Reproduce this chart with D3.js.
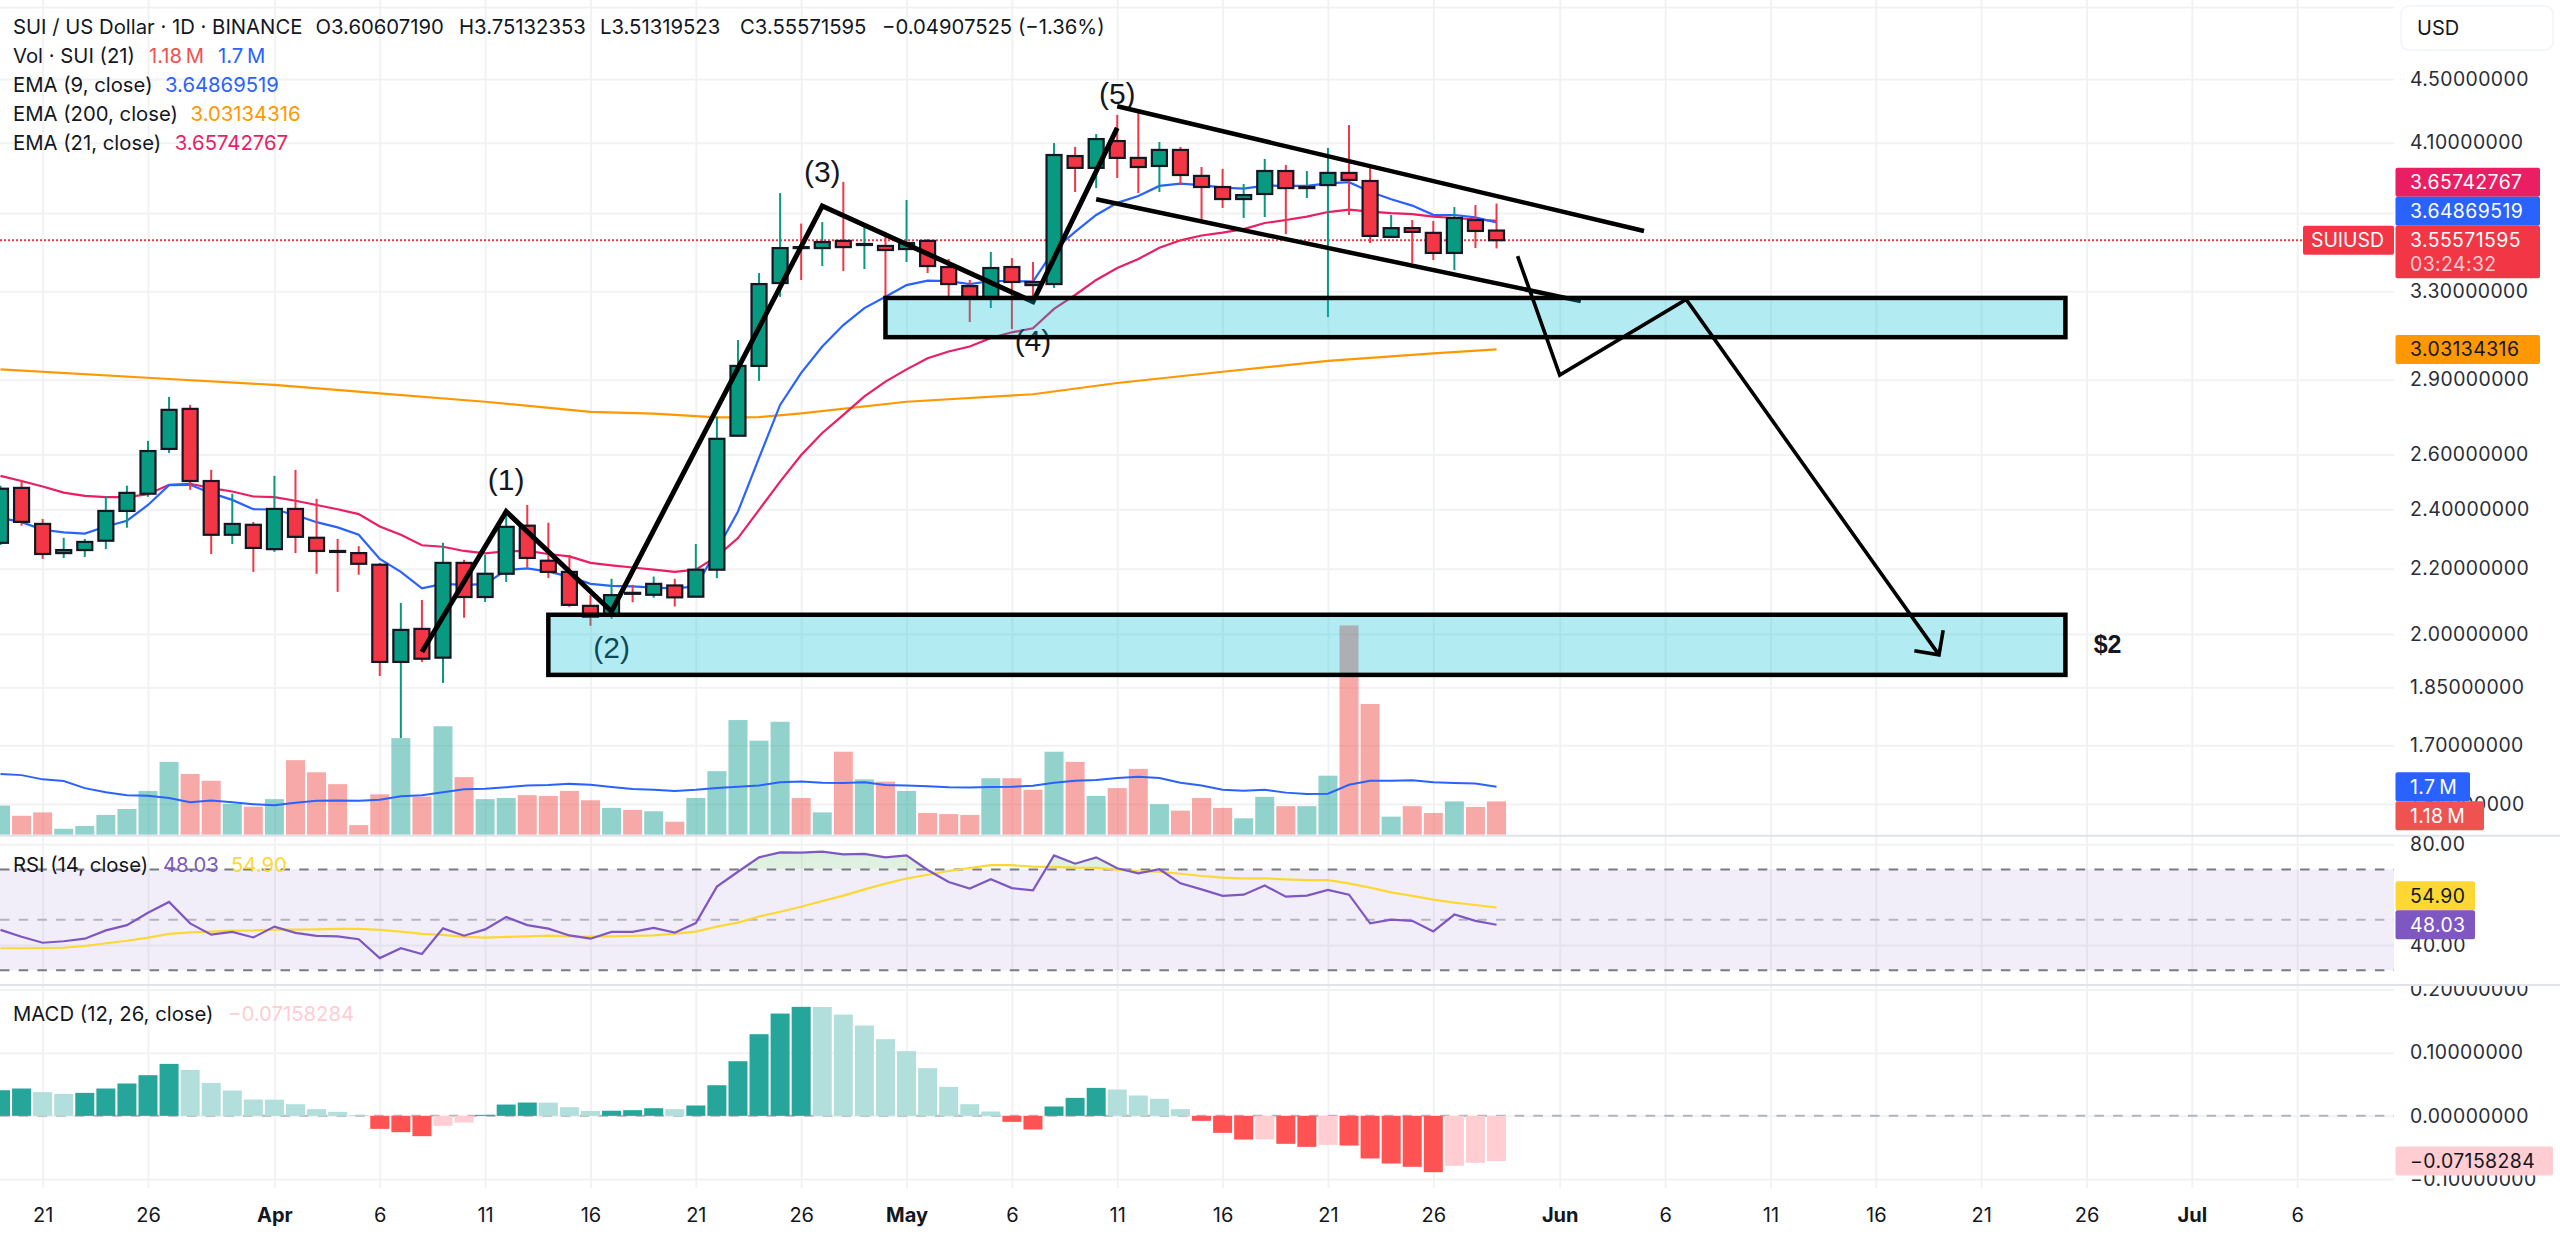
<!DOCTYPE html>
<html>
<head>
<meta charset="utf-8">
<style>
html,body{margin:0;padding:0;background:#fff;overflow:hidden}
svg{display:block}
</style>
<script src="https://cdn.jsdelivr.net/npm/d3@7/dist/d3.min.js"></script>
</head>
<body>
<svg id="chart" width="2560" height="1236"></svg>
<script>
// ---------- data ----------
const firstDay = "2025-03-19", endDayExclusive = "2025-05-30";
const opens = [2.285,2.476,2.349,2.251,2.261,2.292,2.394,2.455,2.621,2.779,2.501,2.312,2.346,
2.264,2.401,2.302,2.258,2.251,2.213,1.920,2.015,1.932,2.219,2.111,2.184,2.343,2.226,2.190,2.084,2.054,2.124,2.118,2.147,2.112,2.197,2.672,2.959,3.340,3.520,3.515,3.552,3.531,3.526,
3.510,3.552,3.419,3.325,3.272,3.419,3.345,3.335,4.021,3.952,4.110,4.010,3.963,4.057,3.906,3.843,3.776,3.804,3.934,3.837,3.854,3.923,3.877,3.573,3.619,3.594,3.490,3.662,3.60607];
const highs = [2.484,2.505,2.366,2.302,2.298,2.447,2.484,2.652,2.828,2.795,2.542,2.455,2.356,
2.520,2.542,2.437,2.298,2.274,2.219,2.093,2.102,2.285,2.229,2.245,2.380,2.415,2.353,2.245,2.117,2.168,2.149,2.175,2.168,2.281,2.747,3.073,3.389,3.809,3.643,3.651,3.872,3.625,3.599,
3.771,3.562,3.459,3.355,3.495,3.464,3.444,4.098,4.075,4.152,4.270,4.289,4.104,4.075,3.957,3.946,3.860,4.004,3.969,3.934,4.069,4.207,3.952,3.689,3.662,3.657,3.732,3.743,3.75132];
const lows = [2.278,2.343,2.232,2.235,2.238,2.264,2.336,2.444,2.606,2.469,2.248,2.281,2.190,
2.255,2.251,2.184,2.127,2.181,1.881,1.718,1.920,1.862,2.048,2.096,2.158,2.203,2.171,2.081,2.024,2.045,2.095,2.109,2.082,2.111,2.170,2.668,2.895,3.273,3.355,3.424,3.399,3.409,3.268,
3.444,3.389,3.268,3.155,3.220,3.123,3.239,3.316,3.815,3.837,3.894,3.809,3.815,3.854,3.662,3.727,3.673,3.678,3.588,3.782,3.178,3.689,3.541,3.570,3.439,3.454,3.404,3.515,3.51320];
const closes = [2.473,2.356,2.248,2.261,2.288,2.394,2.458,2.613,2.775,2.501,2.312,2.349,2.268,
2.401,2.305,2.258,2.255,2.216,1.920,2.012,1.929,2.219,2.111,2.184,2.339,2.235,2.190,2.087,2.051,2.117,2.123,2.152,2.110,2.197,2.660,2.959,3.335,3.515,3.515,3.546,3.520,3.536,3.505,
3.541,3.424,3.335,3.272,3.414,3.345,3.330,4.027,3.952,4.122,4.010,3.957,4.057,3.911,3.843,3.776,3.798,3.934,3.837,3.843,3.923,3.883,3.578,3.619,3.599,3.490,3.673,3.604,3.55572];

const ema9 = [2.370,2.355,2.329,2.320,2.316,2.340,2.360,2.415,2.486,2.487,2.457,2.433,2.400,
2.399,2.380,2.355,2.337,2.312,2.232,2.190,2.138,2.152,2.149,2.151,2.196,2.201,2.191,2.175,2.152,2.146,2.144,2.140,2.138,2.144,2.261,2.392,2.587,2.795,2.929,3.044,3.141,3.220,3.274,
3.330,3.352,3.349,3.335,3.350,3.350,3.347,3.505,3.599,3.689,3.755,3.793,3.849,3.862,3.854,3.840,3.834,3.851,3.849,3.849,3.864,3.870,3.817,3.775,3.740,3.690,3.689,3.676,3.6487];
const ema21 = [2.520,2.501,2.481,2.459,2.447,2.443,2.443,2.453,2.487,2.491,2.475,2.463,2.445,
2.443,2.430,2.415,2.400,2.383,2.340,2.312,2.277,2.272,2.258,2.250,2.257,2.258,2.248,2.240,2.219,2.211,2.204,2.197,2.190,2.197,2.240,2.301,2.398,2.499,2.598,2.683,2.755,2.830,2.892,
2.944,2.992,3.022,3.044,3.082,3.108,3.126,3.216,3.282,3.355,3.414,3.459,3.517,3.555,3.580,3.595,3.614,3.646,3.662,3.680,3.705,3.718,3.707,3.699,3.694,3.680,3.673,3.666,3.6574];
const ema200Days = ["2025-03-19","2025-03-27","2025-04-01","2025-04-06","2025-04-11","2025-04-16","2025-04-19","2025-04-22","2025-04-24","2025-04-26","2025-05-01","2025-05-07","2025-05-11","2025-05-16","2025-05-21","2025-05-26","2025-05-29"];
const ema200Values = [2.944,2.903,2.878,2.843,2.808,2.767,2.760,2.745,2.746,2.761,2.808,2.839,2.886,2.934,2.981,3.014,3.0313];

const volumes = [1.03,.67,.79,.21,.31,.70,.91,1.55,2.58,2.15,1.91,1.09,.99,
1.26,2.64,2.21,1.79,.34,1.43,3.42,1.35,3.84,2.04,1.26,1.30,1.40,1.37,1.55,1.22,.95,.88,.83,.46,1.30,2.25,4.06,3.33,4.00,1.30,.79,2.94,1.96,1.88,
1.55,.77,.73,.70,2.00,2.00,1.59,2.94,2.58,1.37,1.65,2.33,1.08,.85,1.30,.95,.58,1.34,1.01,1.01,2.09,7.41,4.63,.64,1.01,.77,1.18,.98,1.18];
const volumeMA = [2.15,2.11,1.96,1.90,1.65,1.50,1.40,1.38,1.30,1.15,1.21,1.15,1.08,
1.04,1.13,1.20,1.21,1.20,1.24,1.36,1.40,1.50,1.61,1.63,1.68,1.74,1.76,1.80,1.77,1.69,1.62,1.59,1.55,1.59,1.65,1.70,1.74,1.86,1.88,1.84,1.83,1.86,1.76,
1.74,1.72,1.68,1.67,1.69,1.70,1.73,1.84,1.91,1.94,2.01,2.05,2.01,1.84,1.74,1.59,1.56,1.59,1.49,1.44,1.45,1.77,1.91,1.91,1.93,1.86,1.83,1.81,1.70];

const rsi = [46.0,43.3,40.9,41.5,42.5,45.8,47.9,52.8,57.1,48.6,44.1,45.2,43.0,
47.3,44.8,43.6,43.4,42.3,34.8,38.7,36.4,46.6,43.7,46.2,51.1,47.9,46.5,43.8,42.5,45.2,45.2,46.8,44.9,48.7,63.2,69.1,74.8,76.8,76.7,77.1,76.0,76.2,74.8,
75.6,69.8,65.0,62.4,66.1,62.6,61.7,75.6,72.3,74.8,70.5,68.5,70.1,64.5,62.1,59.5,60.0,63.6,59.2,59.6,61.9,60.0,48.6,50.1,49.6,45.4,52.1,49.6,48.03];
const rsiMA = [38.7,38.7,38.8,38.9,39.6,40.7,41.7,42.9,44.4,45.0,45.3,45.7,45.8,
46.1,46.1,46.2,46.4,46.4,46.0,45.3,44.4,44.0,43.2,42.9,43.2,43.4,43.7,43.4,43.3,43.4,43.6,43.8,44.5,45.3,47.3,48.9,51.3,53.2,55.2,57.5,59.6,62.1,64.4,
66.4,67.9,69.4,70.6,71.7,71.7,71.1,71.0,70.7,70.6,69.9,69.3,69.1,68.3,67.4,66.8,66.5,66.5,66.1,65.8,65.8,64.5,62.8,60.9,59.5,58.0,56.8,55.9,54.90];

const macdHist = [.0406,.0433,.0375,.0348,.0364,.0433,.0512,.0644,.0823,.0728,.0522,.0401,.0259,
.0257,.0185,.0106,.0063,.0011,-.0206,-.0259,-.0322,-.0158,-.0106,.0016,.0179,.0211,.0209,.0137,.0079,.0081,.0090,.0121,.0106,.0164,.0485,.0865,.1293,.1620,.1726,.1724,.1604,.1430,.1214,
.1024,.0755,.0459,.0185,.0069,-.0095,-.0216,.0148,.0285,.0443,.0417,.0322,.0269,.0106,-.0079,-.0269,-.0375,-.0373,-.0443,-.0491,-.0459,-.0470,-.0675,-.0755,-.0807,-.0892,-.0792,-.0744,-.07158];

const priceGridTicks = [5.0,4.5,4.1,3.7,3.3,2.9,2.6,2.4,2.2,2.0,1.85,1.7,1.56];
const priceLabelTicks = [4.5,4.1,3.3,2.9,2.6,2.4,2.2,2.0,1.85,1.7,1.56];
const rsiGridTicks = [80,40];
const macdGridTicks = [.2,.1,0,-.1];
const timeTickDays = ["2025-03-21","2025-03-26","2025-04-01","2025-04-06","2025-04-11","2025-04-16","2025-04-21","2025-04-26","2025-05-01","2025-05-06","2025-05-11","2025-05-16","2025-05-21","2025-05-26","2025-06-01","2025-06-06","2025-06-11","2025-06-16","2025-06-21","2025-06-26","2025-07-01","2025-07-06"];
const timeTickLabels = ["21","26","Apr","6","11","16","21","26","May","6","11","16","21","26","Jun","6","11","16","21","26","Jul","6"];

// hand drawings, as chart anchors (day, price)
const waveDays = ["2025-04-08","2025-04-12","2025-04-17","2025-04-27","2025-05-07","2025-05-11"];
const wavePrices = [1.948,2.392,2.067,3.738,3.250,4.190];
const waveLabels = ["(1)","(2)","(3)","(4)","(5)"];
const waveLabelDays = ["2025-04-12","2025-04-17","2025-04-27","2025-05-07","2025-05-11"];
const waveLabelPrices = [2.505,1.960,3.929,3.070,4.408];
const channelUpperDays = ["2025-05-11","2025-06-05"];
const channelUpperPrices = [4.324,3.604];
const channelLowerDays = ["2025-05-10","2025-06-02"];
const channelLowerPrices = [3.775,3.253];
const forecastDays = ["2025-05-30","2025-06-01","2025-06-07","2025-06-19"];
const forecastPrices = [3.474,2.920,3.261,1.940];
const zoneStartDays = ["2025-04-30","2025-04-14"];
const zoneEndDays = ["2025-06-25","2025-06-25"];
const zoneTops = [3.268,2.057];
const zoneBottoms = [3.086,1.884];
const noteText = "$2", noteDay = "2025-06-27", notePrice = 1.971;

// indicator read-outs printed in the legend and on the tags
const ema9Text = "3.64869519", ema21Text = "3.65742767", ema200Text = "3.03134316", closeText = "3.55571595";
const vol1Text = "1.18\u2009M", volMAText = "1.7\u2009M", rsiText = "48.03", rsiMAText = "54.90", macdText = "\u22120.07158284";

// ---------- scales ----------
const parseDay = d3.utcParse("%Y-%m-%d");
const dates = d3.utcDay.range(parseDay(firstDay), parseDay(endDayExclusive));
const x = d3.scaleUtc().domain([parseDay("2025-03-19"), parseDay("2025-07-06")]).range([0.5, 2297.2]);
const yP = d3.scaleLog().domain([4.5, 2.0]).range([79, 634]);
const yV = d3.scaleLinear().domain([0, 1.7]).range([834.7, 786.7]);
const yR = d3.scaleLinear().domain([80, 40]).range([844.3, 945]);
const yM = d3.scaleLinear().domain([.1, -.1]).range([1052.7, 1179]);

const PLOT_R = 2394, GRID_B = 1188;
const FONT = "Inter, 'Noto Sans', sans-serif";
const svg = d3.select("#chart").style("font-family", FONT);
const defs = svg.append("defs");
defs.append("clipPath").attr("id","macdAxisClip").append("rect").attr("x",2394).attr("y",986).attr("width",170).attr("height",220);
defs.append("clipPath").attr("id","obClip").append("rect").attr("x",0).attr("y",830).attr("width",PLOT_R).attr("height",yR(70)-830);
const grad = defs.append("linearGradient").attr("id","obGrad").attr("x1",0).attr("y1",0).attr("x2",0).attr("y2",1);
grad.append("stop").attr("offset","0").attr("stop-color","#4caf50").attr("stop-opacity",.2);
grad.append("stop").attr("offset","1").attr("stop-color","#4caf50").attr("stop-opacity",0);

svg.append("rect").attr("width",2560).attr("height",1236).attr("fill","#fff");

// ---------- grid ----------
const GRID = "#f1f2f4";
function grid(scale, ticks){
  const g = svg.append("g").attr("transform",`translate(${PLOT_R},0)`)
    .call(d3.axisLeft(scale).tickValues(ticks).tickSize(PLOT_R).tickFormat(""));
  g.select(".domain").remove();
  g.selectAll("line").attr("stroke",GRID).attr("stroke-width",2);
}
grid(yP, priceGridTicks); grid(yR, rsiGridTicks); grid(yM, macdGridTicks);
const vg = svg.append("g")
  .call(d3.axisBottom(x).tickValues(timeTickDays.map(parseDay)).tickSize(GRID_B).tickFormat(""));
vg.select(".domain").remove();
vg.selectAll("line").attr("stroke",GRID).attr("stroke-width",2);

// ---------- volume ----------
const idx = d3.range(dates.length);
const UP = "#089981", DOWN = "#f23645";
const isUp = i => closes[i] >= opens[i];
svg.append("g").selectAll("rect").data(idx).join("rect")
  .attr("x", i => x(dates[i]) - 9.5).attr("width", 19)
  .attr("y", i => yV(volumes[i])).attr("height", i => yV(0) - yV(volumes[i]))
  .attr("fill", i => isUp(i) ? "rgba(38,166,154,.5)" : "rgba(239,83,80,.5)");
const line = (yScale, vals) => d3.line().x(i => x(dates[i])).y(i => yScale(vals[i]))(idx);
svg.append("path").attr("d", line(yV, volumeMA)).attr("fill","none").attr("stroke","#2962ff").attr("stroke-width",2);

// ---------- EMAs ----------
svg.append("path").attr("d", d3.line().x(d=>x(parseDay(d[0]))).y(d=>yP(d[1]))(d3.zip(ema200Days, ema200Values)))
  .attr("fill","none").attr("stroke","#ff9800").attr("stroke-width",2.2);
svg.append("path").attr("d", line(yP, ema21)).attr("fill","none").attr("stroke","#e91e63").attr("stroke-width",2.2);
svg.append("path").attr("d", line(yP, ema9)).attr("fill","none").attr("stroke","#2962ff").attr("stroke-width",2.2);

// ---------- last price line ----------
const last = dates.length - 1;
svg.append("line").attr("x1",0).attr("x2",2303).attr("y1",yP(closes[last])).attr("y2",yP(closes[last]))
  .attr("stroke",DOWN).attr("stroke-width",2).attr("stroke-dasharray","2 2");

// ---------- candles ----------
const candle = svg.append("g").selectAll("g").data(idx).join("g");
candle.append("line")
  .attr("x1", i => x(dates[i])).attr("x2", i => x(dates[i]))
  .attr("y1", i => yP(highs[i])).attr("y2", i => yP(lows[i]))
  .attr("stroke", i => isUp(i) ? UP : DOWN).attr("stroke-width",2);
candle.append("rect")
  .attr("x", i => x(dates[i]) - 7.5).attr("width", 15)
  .attr("y", i => yP(Math.max(opens[i],closes[i])))
  .attr("height", i => Math.max(1, yP(Math.min(opens[i],closes[i])) - yP(Math.max(opens[i],closes[i]))))
  .attr("fill", i => isUp(i) ? UP : DOWN).attr("stroke","#131722").attr("stroke-width",2.2);

// ---------- hand drawings under the zones ----------
const pathOf = (days, prices) => d3.line().x(d=>x(parseDay(d[0]))).y(d=>yP(d[1]))(d3.zip(days, prices));
svg.append("g").selectAll("text").data(waveLabels).join("text")
  .text(d=>d)
  .attr("x",(d,i)=>x(parseDay(waveLabelDays[i]))).attr("y",(d,i)=>yP(waveLabelPrices[i]))
  .attr("text-anchor","middle").attr("dominant-baseline","central")
  .style("font-family","'Liberation Sans', Arial, sans-serif").style("font-size","30px").attr("fill","#131722");
svg.append("path").attr("d",pathOf(waveDays,wavePrices)).attr("fill","none").attr("stroke","#000").attr("stroke-width",5).attr("stroke-linejoin","miter");
[[channelUpperDays,channelUpperPrices],[channelLowerDays,channelLowerPrices]].forEach(c=>{
  svg.append("path").attr("d",pathOf(c[0],c[1])).attr("fill","none").attr("stroke","#000").attr("stroke-width",4.5);
});

// ---------- zones ----------
zoneTops.forEach((t,i)=>{
  const x0=x(parseDay(zoneStartDays[i])), x1=x(parseDay(zoneEndDays[i]));
  svg.append("rect").attr("x",x0).attr("width",x1-x0).attr("y",yP(t)).attr("height",yP(zoneBottoms[i])-yP(t))
    .attr("fill","rgba(0,188,212,.3)").attr("stroke","#000").attr("stroke-width",4.5);
});

// ---------- forecast with arrow ----------
svg.append("path").attr("d",pathOf(forecastDays,forecastPrices)).attr("fill","none").attr("stroke","#000").attr("stroke-width",3.6).attr("stroke-linejoin","miter");
{
  const n=forecastDays.length;
  const tx=x(parseDay(forecastDays[n-1])), ty=yP(forecastPrices[n-1]);
  const bx=x(parseDay(forecastDays[n-2])), by=yP(forecastPrices[n-2]);
  const a=Math.atan2(by-ty,bx-tx), L=25, w=Math.PI/4;
  svg.append("path").attr("d",d3.line()([[tx+L*Math.cos(a+w),ty+L*Math.sin(a+w)],[tx,ty],[tx+L*Math.cos(a-w),ty+L*Math.sin(a-w)]]))
    .attr("fill","none").attr("stroke","#000").attr("stroke-width",3.6);
}
svg.append("text").text(noteText).attr("x",x(parseDay(noteDay))).attr("y",yP(notePrice))
  .attr("text-anchor","middle").attr("dominant-baseline","central")
  .style("font-family","'Liberation Sans', Arial, sans-serif").style("font-weight","700").style("font-size","25px").attr("fill","#131722");

// ---------- RSI pane ----------
svg.append("rect").attr("x",0).attr("width",PLOT_R).attr("y",yR(70)).attr("height",yR(30)-yR(70)).attr("fill","rgba(126,87,194,.1)");
svg.append("path").attr("clip-path","url(#obClip)")
  .attr("d", d3.area().x(i=>x(dates[i])).y0(yR(70)).y1(i=>yR(rsi[i]))(idx))
  .attr("fill","url(#obGrad)");
[[70,"#787b86"],[50,"#b2b5be"],[30,"#787b86"]].forEach(l=>{
  svg.append("line").attr("x1",0).attr("x2",PLOT_R).attr("y1",yR(l[0])).attr("y2",yR(l[0]))
    .attr("stroke",l[1]).attr("stroke-width",2).attr("stroke-dasharray","9.5 9.2");
});
svg.append("path").attr("d",line(yR,rsiMA)).attr("fill","none").attr("stroke","#fdd835").attr("stroke-width",2.2);
svg.append("path").attr("d",line(yR,rsi)).attr("fill","none").attr("stroke","#7e57c2").attr("stroke-width",2.2);

// ---------- MACD pane ----------
svg.append("line").attr("x1",0).attr("x2",PLOT_R).attr("y1",yM(0)).attr("y2",yM(0))
  .attr("stroke","#b2b5be").attr("stroke-width",2).attr("stroke-dasharray","9.5 9.2");
const histColor = i => {
  const v=macdHist[i], p=i>0?macdHist[i-1]:-1;
  return v>=0 ? (v>p?"#26a69a":"#b2dfdb") : (v<p?"#ff5252":"#ffcdd2");
};
svg.append("g").selectAll("rect").data(idx).join("rect")
  .attr("x", i=>x(dates[i])-9.5).attr("width",19)
  .attr("y", i=>Math.min(yM(0),yM(macdHist[i])))
  .attr("height", i=>Math.abs(yM(macdHist[i])-yM(0)))
  .attr("fill", histColor);

// ---------- separators ----------
[835.7,985].forEach(y=>svg.append("line").attr("x1",0).attr("x2",2560).attr("y1",y).attr("y2",y).attr("stroke","#e0e3eb").attr("stroke-width",2));

// ---------- axes ----------
const AXIS_SIZE="19.4px", AXIS_LS="0.42px";
function rightAxis(scale,ticks,fmt,clip){
  const g=svg.append("g").attr("transform","translate(2410,0)")
    .call(d3.axisRight(scale).tickValues(ticks).tickSize(0).tickPadding(0).tickFormat(fmt));
  g.select(".domain").remove();
  g.selectAll("text").style("font-family",FONT).style("font-size",AXIS_SIZE).style("letter-spacing",AXIS_LS).attr("fill","#2a2e39");
  if(clip){ const o=svg.append("g").attr("clip-path",clip); o.node().appendChild(g.node()); }
}
const signed = d => (d<0?"\u2212":"")+Math.abs(d).toFixed(8);
rightAxis(yP,priceLabelTicks,d=>d.toFixed(8));
rightAxis(yR,rsiGridTicks,d=>d.toFixed(2));
rightAxis(yM,macdGridTicks,signed,"url(#macdAxisClip)");

const tickDates=timeTickDays.map(parseDay);
const tg=svg.append("g").attr("transform","translate(0,1208)")
  .call(d3.axisBottom(x).tickValues(tickDates).tickSize(0).tickPadding(0).tickFormat((d,i)=>timeTickLabels[i]));
tg.select(".domain").remove();
tg.selectAll("text").style("font-family",FONT).style("font-size","20px").attr("fill","#131722")
  .style("font-weight",(d,i)=>/[A-Za-z]/.test(timeTickLabels[i])?"700":"400");

// ---------- USD box ----------
svg.append("rect").attr("x",2401).attr("y",6).attr("width",152).attr("height",44).attr("rx",8).attr("fill","#fff").attr("stroke","#f0f3fa").attr("stroke-width",1.5);
svg.append("text").text("USD").attr("x",2417).attr("y",28).attr("dominant-baseline","central").style("font-size","20px").attr("fill","#131722");

// ---------- value tags (stacked upward or downward when they would collide) ----------
const TAG_H = 29;
function tag(cy,w,color,label,txt){
  svg.append("rect").attr("x",2395.5).attr("y",cy-TAG_H/2).attr("width",w).attr("height",TAG_H).attr("rx",2).attr("fill",color);
  svg.append("text").text(label).attr("x",2410).attr("y",cy).attr("dominant-baseline","central")
    .style("font-size",AXIS_SIZE).style("letter-spacing",AXIS_LS).attr("fill",txt);
}
const cy=yP(closes[last]);
svg.append("rect").attr("x",2303).attr("y",cy-TAG_H/2).attr("width",91).attr("height",TAG_H).attr("rx",2).attr("fill",DOWN);
svg.append("text").text("SUIUSD").attr("x",2311).attr("y",cy).attr("dominant-baseline","central").style("font-size",AXIS_SIZE).attr("fill","#fff");
tag(cy-2*TAG_H,144.5,"#e91e63",ema21Text,"#fff");
tag(cy-TAG_H,144.5,"#2962ff",ema9Text,"#fff");
svg.append("rect").attr("x",2395.5).attr("y",cy-TAG_H/2).attr("width",144.5).attr("height",52.5).attr("rx",2).attr("fill",DOWN);
svg.append("text").text(closeText).attr("x",2410).attr("y",cy).attr("dominant-baseline","central").style("font-size",AXIS_SIZE).style("letter-spacing",AXIS_LS).attr("fill","#fff");
svg.append("text").text("03:24:32").attr("x",2410).attr("y",cy+23.5).attr("dominant-baseline","central").style("font-size",AXIS_SIZE).style("letter-spacing",AXIS_LS).attr("fill","rgba(255,255,255,.75)");
tag(yP(ema200Values[ema200Values.length-1]),144.5,"#ff9800",ema200Text,"#131722");
tag(yV(volumeMA[last]),74.5,"#2962ff",volMAText,"#fff");
tag(yV(volumeMA[last])+TAG_H,88.5,"#ef5350",vol1Text,"#fff");
tag(yR(rsi[last])-TAG_H,79.5,"#fdd835",rsiMAText,"#131722");
tag(yR(rsi[last]),79.5,"#7e57c2",rsiText,"#fff");
tag(yM(macdHist[last]),157.5,"#ffcdd2",macdText,"#131722");

// ---------- legends ----------
const LEG="20.3px";
function legend(y,parts){
  parts.forEach(p=>{
    svg.append("text").text(p[1]).attr("x",p[0]).attr("y",y).attr("dominant-baseline","central")
      .style("font-size",LEG).attr("fill",p[2]||"#131722");
  });
}
legend(26,[[13,"SUI / US Dollar \u00b7 1D \u00b7 BINANCE"],[315.5,"O3.60607190"],[459,"H3.75132353"],[600,"L3.51319523"],[740,"C3.55571595"],[882,"\u22120.04907525 (\u22121.36%)"]]);
legend(55,[[13,"Vol \u00b7 SUI (21)"],[149,vol1Text,"#ef5350"],[218,volMAText,"#2962ff"]]);
legend(84,[[13,"EMA (9, close)"],[165,ema9Text,"#2962ff"]]);
legend(113,[[13,"EMA (200, close)"],[190.6,ema200Text,"#ff9800"]]);
legend(142,[[13,"EMA (21, close)"],[174.7,ema21Text,"#e91e63"]]);
legend(864,[[13,"RSI (14, close)"],[163,rsiText,"#7e57c2"],[231,rsiMAText,"#fdd835"]]);
legend(1013,[[13,"MACD (12, 26, close)"],[228,macdText,"#ffcdd2"]]);
</script>
</body>
</html>
